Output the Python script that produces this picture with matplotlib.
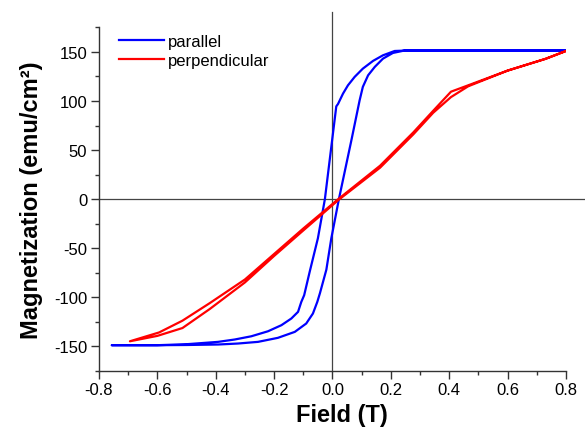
import numpy as np
import matplotlib
matplotlib.use("Agg")
import matplotlib.pyplot as plt
from matplotlib.ticker import MultipleLocator, FormatStrFormatter

plt.rcParams['font.family'] = ['Liberation Sans', 'DejaVu Sans']

# parallel loop (blue): descending branch, then ascending branch
par_down_x = [0.8, 0.4, 0.258, 0.213, 0.173, 0.139, 0.104, 0.076, 0.053, 0.036, 0.019,
              0.013, -0.026, -0.050, -0.078, -0.097, -0.107, -0.118, -0.141, -0.175,
              -0.221, -0.278, -0.335, -0.392, -0.5, -0.6, -0.756]
par_down_y = [151.5, 151.5, 151.5, 151, 146.6, 140.9, 133, 124.6, 116, 107.5, 97,
              94.5, 0, -40, -74, -98, -105, -115, -121.8, -128.6,
              -134.8, -139.9, -143.2, -145.6, -148, -149, -149]
par_up_x = [-0.756, -0.6, -0.5, -0.392, -0.324, -0.255, -0.187, -0.129, -0.090, -0.067,
            -0.052, -0.043, -0.021, -0.004, 0.022, 0.066, 0.093, 0.104, 0.122, 0.145,
            0.173, 0.207, 0.247, 0.4, 0.8]
par_up_y = [-149, -149, -148.8, -148.3, -147.3, -145.6, -141.5, -135.4, -126.9, -116.7,
            -104.8, -96, -72, -40, 0, 61.7, 100.7, 114.4, 126.2, 134.8,
            143.2, 149, 151.5, 151.5, 151.5]

# perpendicular loop (red)
perp_down_x = [0.8, 0.73, 0.6, 0.465, 0.406, 0.345, 0.277, 0.163, 0.02, -0.1, -0.2,
               -0.3, -0.42, -0.514, -0.594, -0.694]
perp_down_y = [151, 143, 131, 116, 109.5, 90, 68, 34, 0, -30, -56,
               -82, -106, -124, -136, -145]
perp_up_x = [-0.694, -0.6, -0.514, -0.42, -0.3, -0.2, -0.1, 0.02, 0.163, 0.277,
             0.345, 0.406, 0.465, 0.6, 0.73, 0.8]
perp_up_y = [-145, -139.5, -131.5, -112, -85, -58, -32, -1, 32, 66,
             88, 104, 115, 131, 143, 151]

fig = plt.figure(figsize=(5.85, 4.31), dpi=100)
ax = fig.add_axes([0.1692, 0.1376, 0.7983, 0.7964])

# axis lines through the origin, running a little past the frame
ax.axhline(0, xmin=0, xmax=1.04, color='#444444', lw=0.9, clip_on=False, zorder=1)
ax.axvline(0, ymin=0, ymax=1.045, color='#444444', lw=0.9, clip_on=False, zorder=1)

ax.plot(par_down_x + par_up_x, par_down_y + par_up_y, color='#0000ff', lw=1.6,
        label='parallel', zorder=3)
ax.plot(perp_down_x + perp_up_x, perp_down_y + perp_up_y, color='#ff0000', lw=1.6,
        label='perpendicular', zorder=4)

ax.set_xlim(-0.8, 0.8)
ax.set_ylim(-175, 175)
ax.xaxis.set_major_locator(MultipleLocator(0.2))
ax.xaxis.set_minor_locator(MultipleLocator(0.1))
ax.yaxis.set_major_locator(MultipleLocator(50))
ax.yaxis.set_minor_locator(MultipleLocator(25))
ax.xaxis.set_major_formatter(FormatStrFormatter('%.1f'))
ax.yaxis.set_major_formatter(FormatStrFormatter('%d'))

for s in ['top', 'right']:
    ax.spines[s].set_visible(False)
for s in ['left', 'bottom']:
    ax.spines[s].set_color('#333333')
    ax.spines[s].set_linewidth(1.0)

ax.tick_params(which='major', direction='out', length=5.5, width=1.0, color='#333333',
               labelsize=12, pad=3)
ax.tick_params(which='minor', direction='out', length=3, width=1.0, color='#333333')

ax.set_xlabel('Field (T)', fontsize=17, fontweight='bold')
ax.set_ylabel('Magnetization (emu/cm²)', fontsize=17, fontweight='bold')
ax.xaxis.set_label_coords(0.52, -0.095)
ax.yaxis.set_label_coords(-0.12, 0.5)

ax.legend(loc='upper left', bbox_to_anchor=(0.035, 0.99), frameon=False, fontsize=12,
          handlelength=2.7, handletextpad=0.25, labelspacing=0.2, borderaxespad=0,
          borderpad=0.2)

fig.savefig('out.png', dpi=100)
